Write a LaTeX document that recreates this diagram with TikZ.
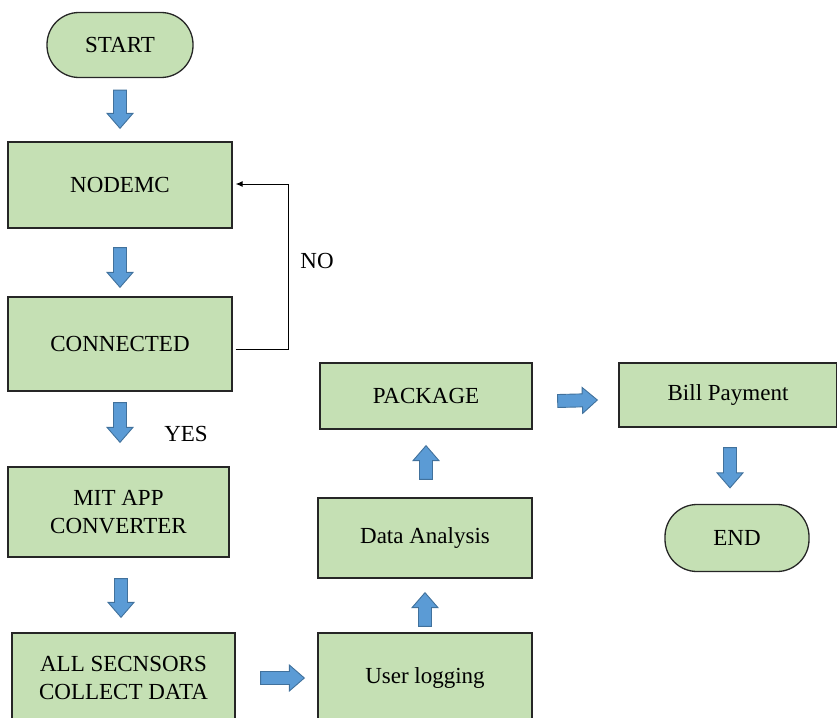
\documentclass[tikz,border=0pt]{standalone}
\usepackage{fontspec}
\setmainfont{Liberation Serif}
\usetikzlibrary{calc,arrows.meta}
\definecolor{boxgreen}{HTML}{C5E0B4}
\definecolor{arrowblue}{HTML}{5B9BD5}
\definecolor{arrowedge}{HTML}{41719C}
\begin{document}
\begin{tikzpicture}[x=1pt,y=-1pt,
  every node/.style={font=\fontsize{23}{28}\selectfont},
  procbox/.style={draw=black!85, line width=1.3pt, fill=boxgreen, inner sep=0pt, align=center},
  termbox/.style={procbox, rounded corners=32pt},
  lbl/.style={inner sep=0pt},
  barrow/.style={fill=arrowblue, draw=arrowedge, line width=0.9pt, line join=miter,
    to path={
      ($(\tikztostart)!6.5pt!90:(\tikztotarget)$)
      -- ($(\tikztotarget)!15pt!(\tikztostart)!6.5pt!-90:(\tikztostart)$)
      -- ($(\tikztotarget)!15pt!(\tikztostart)!13pt!-90:(\tikztostart)$)
      -- (\tikztotarget)
      -- ($(\tikztotarget)!15pt!(\tikztostart)!13pt!90:(\tikztostart)$)
      -- ($(\tikztotarget)!15pt!(\tikztostart)!6.5pt!90:(\tikztostart)$)
      -- ($(\tikztostart)!6.5pt!-90:(\tikztotarget)$) -- cycle}},
  fb/.style={draw=black, line width=1pt, -{Latex[length=7pt,width=6pt]}}
]
\useasboundingbox (0,0) rectangle (837,717);

\node[termbox, minimum width=146pt, minimum height=65pt] (start) at (120,45) {START};
\node[procbox, minimum width=224pt, minimum height=86pt] (nodemc) at (120,185) {NODEMC};
\node[procbox, minimum width=224pt, minimum height=94pt] (conn) at (120,344) {CONNECTED};
\node[procbox, minimum width=221pt, minimum height=90pt] (mit) at (118.5,512) {MIT APP\\CONVERTER};
\node[procbox, minimum width=223pt, minimum height=90pt] (all) at (123.5,678) {ALL SECNSORS\\COLLECT DATA};
\node[procbox, minimum width=214pt, minimum height=90pt] (user) at (425,678) {User logging};
\node[procbox, minimum width=214pt, minimum height=80pt] (data) at (425,538) {Data Analysis};
\node[procbox, minimum width=212pt, minimum height=66pt] (pkg) at (426,396) {PACKAGE};
\node[procbox, minimum width=218pt, minimum height=64pt] (bill) at (728,395) {Bill Payment};
\node[termbox, minimum width=144pt, minimum height=67pt] (end) at (737,538) {END};

\node[lbl] (no) at (317,261) {NO};
\node[lbl] (yes) at (186,434) {YES};

\draw[barrow] ([yshift=-12pt]start.south) to ([yshift=13pt]nodemc.north);
\draw[barrow] ([yshift=-19pt]nodemc.south) to ([yshift=9pt]conn.north);
\draw[barrow] ([yshift=-11pt]conn.south) to ([yshift=24pt,xshift=1.5pt]mit.north);
\draw[barrow] ([yshift=-21pt,xshift=2.5pt]mit.south) to ([yshift=15pt,xshift=-2.5pt]all.north);
\draw[barrow] ([xshift=25pt]all.east) to ([xshift=-13pt]user.west);
\draw[barrow] ([yshift=6pt]user.north) to ([yshift=-14pt]data.south);
\draw[barrow] ([yshift=18pt,xshift=1pt]data.north) to ([yshift=-16pt]pkg.south);
\draw[barrow] ([xshift=25pt,yshift=-5pt]pkg.east) to ([xshift=-21pt,yshift=-5pt]bill.west);
\draw[barrow] ([yshift=-20pt,xshift=2pt]bill.south) to ([yshift=16pt,xshift=-7pt]end.north);

\draw[fb] ([xshift=3pt,yshift=-5pt]conn.east) -- ++(53,0) |- ([xshift=3pt,yshift=1pt]nodemc.east);
\end{tikzpicture}
\end{document}
